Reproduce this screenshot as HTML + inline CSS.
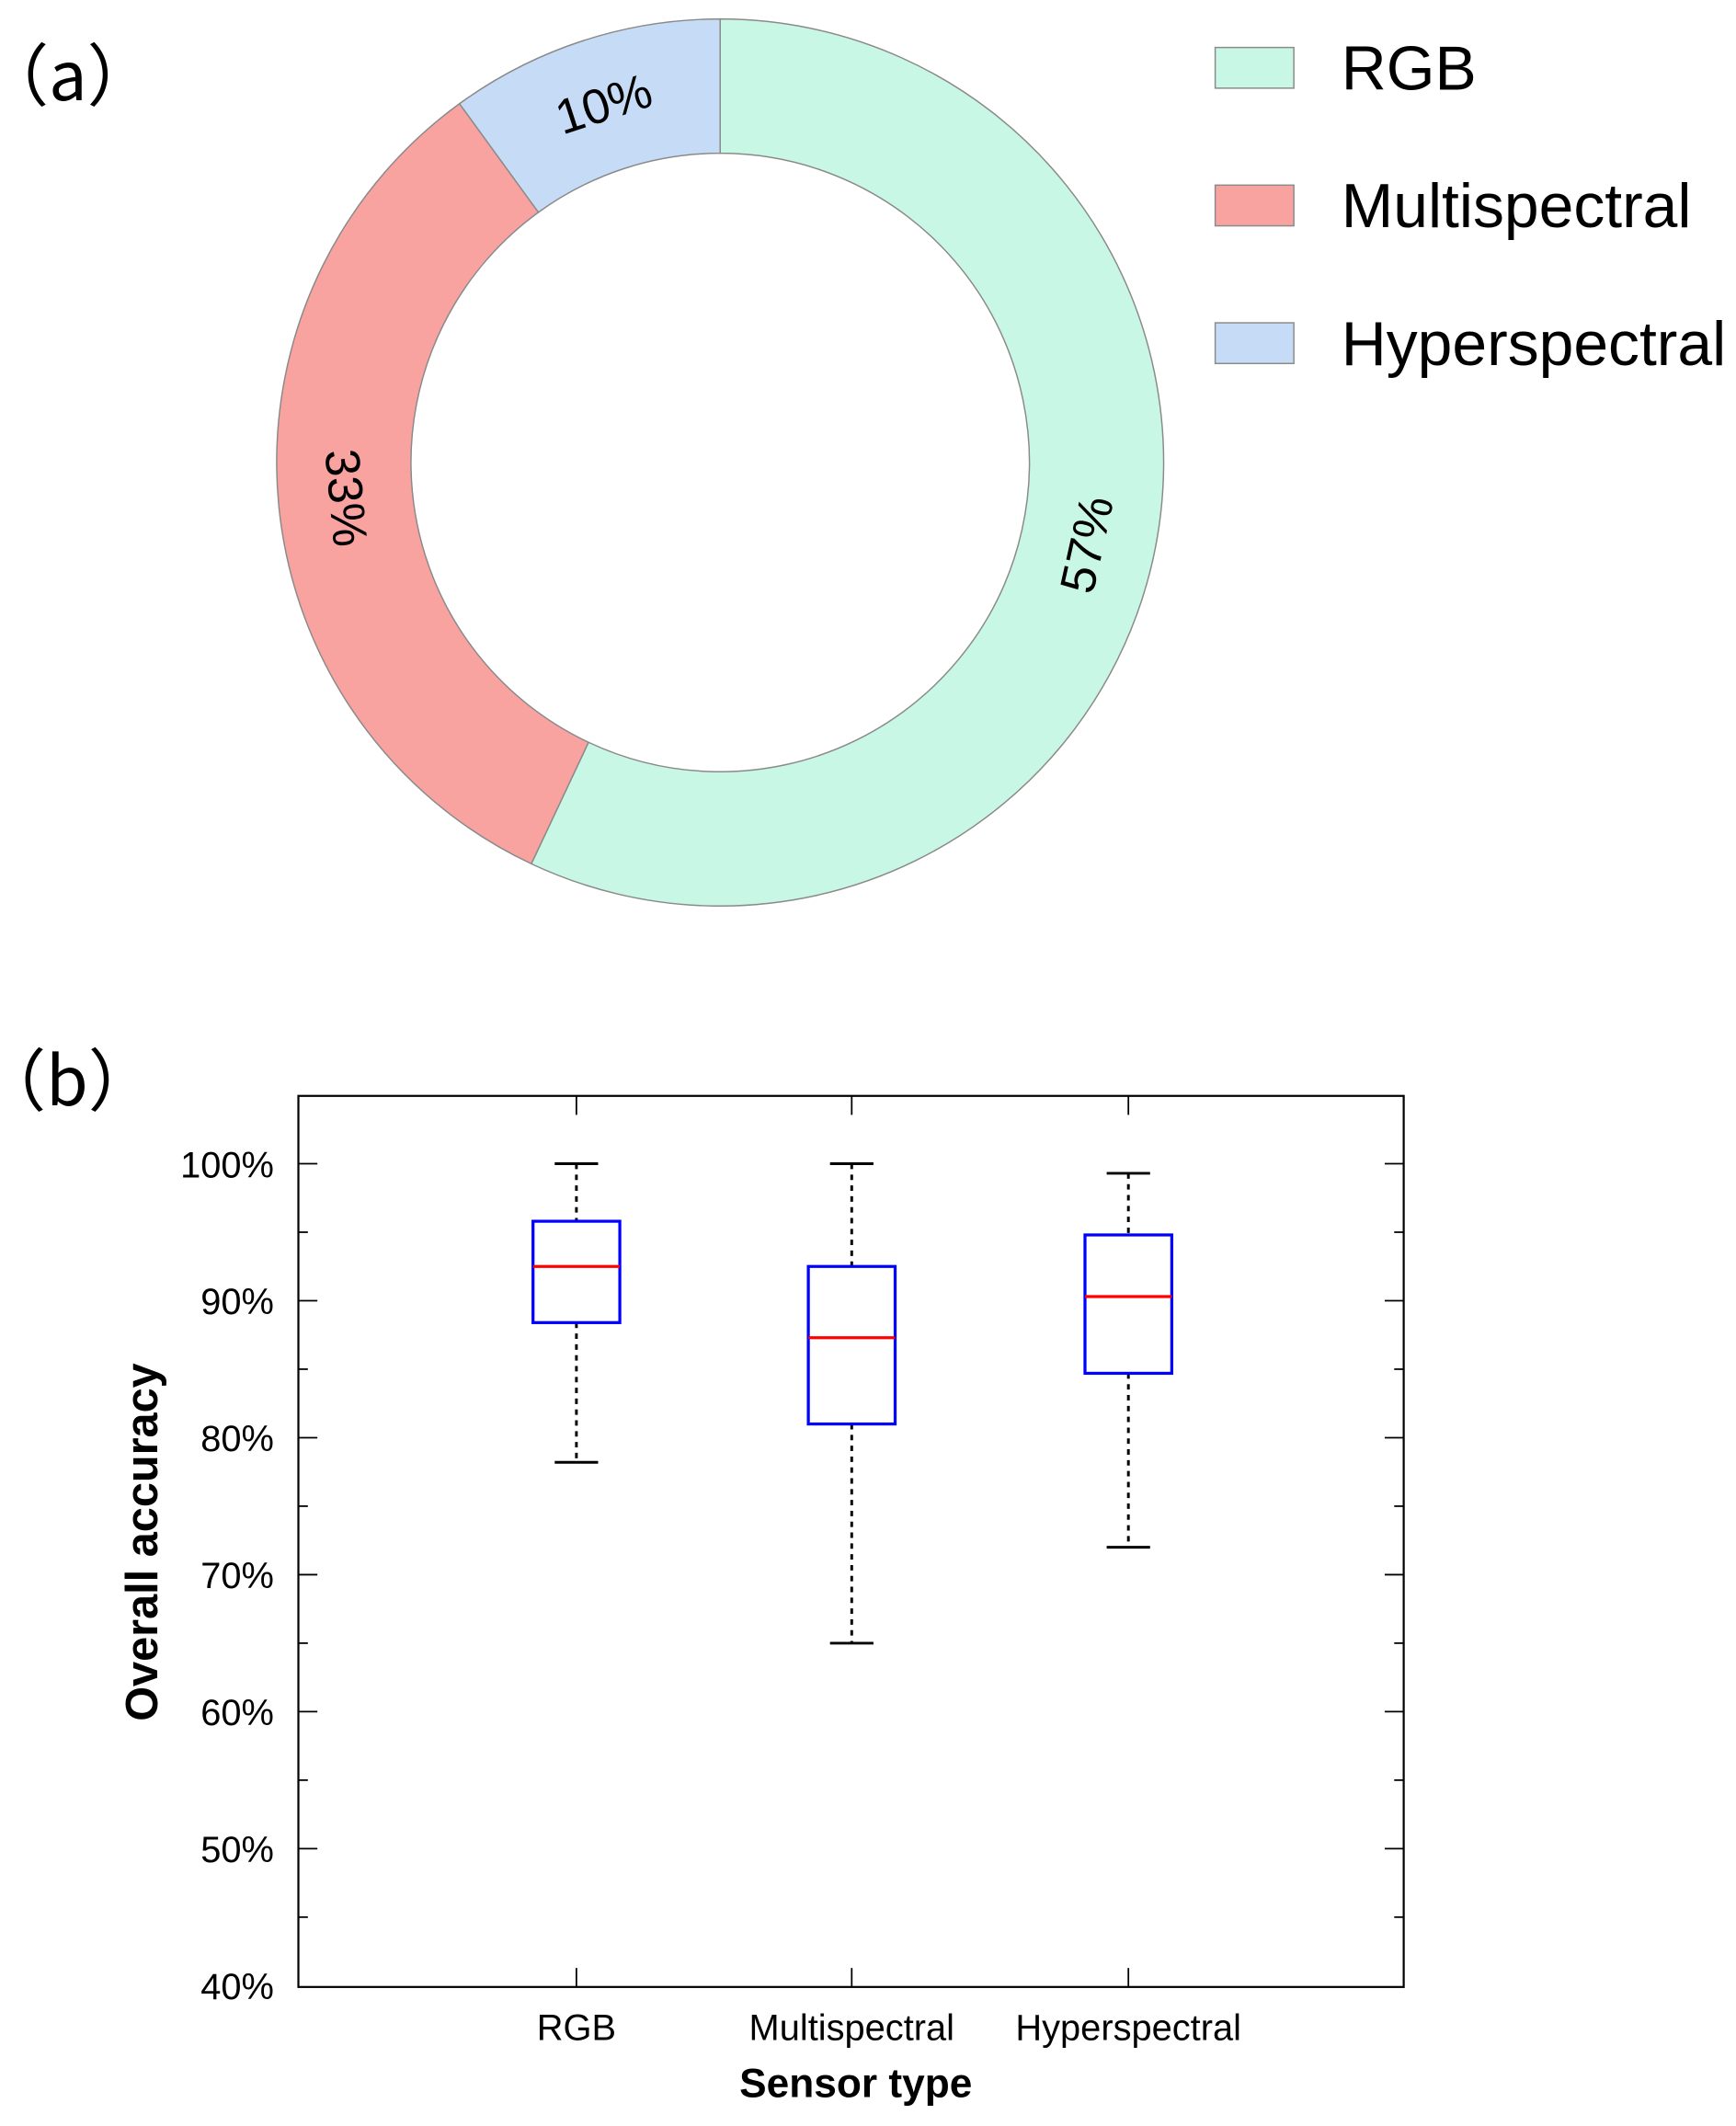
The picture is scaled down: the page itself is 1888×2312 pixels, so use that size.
<!DOCTYPE html>
<html><head><meta charset="utf-8"><style>
html,body{margin:0;padding:0;background:#fff;}
svg{display:block;font-family:"Liberation Sans",Arial,sans-serif;}
</style></head><body>
<svg id="fig" width="1888" height="2312" viewBox="0 0 1280 1567.5" xmlns="http://www.w3.org/2000/svg">
<rect width="1280" height="1567.5" fill="#fff"/>
<text x="-14" y="74" font-size="50" font-family="'Noto Sans CJK SC',sans-serif">（a）</text>
<g id="donut"></g>
<g id="legend"></g>
<text x="-16" y="815" font-size="50" font-family="'Noto Sans CJK SC',sans-serif">（b）</text>
<g id="box"></g>
</svg>
<script>
const shareLabels=["RGB","Multispectral","Hyperspectral"];
const shareValues=[57,33,10];
const shareColors=["#c9f7e5","#f9a3a1","#c6dcf6"];
const boxCats=["RGB","Multispectral","Hyperspectral"];
const boxMin=[78.2,65,72];
const boxQ1=[88.4,81,84.7];
const boxMed=[92.5,87.3,90.3];
const boxQ3=[95.8,92.5,94.8];
const boxMax=[100,100,99.3];
const yTicks=[40,50,60,70,80,90,100];

const NS="http://www.w3.org/2000/svg";
function mk(tag,attrs,parent,txt){const e=document.createElementNS(NS,tag);for(const k in attrs)e.setAttribute(k,attrs[k]);if(txt!=null)e.textContent=txt;parent.appendChild(e);return e;}

const dg=document.getElementById('donut');
const cx=531,cy=341,R=327,r=228;
const total=shareValues.reduce((a,b)=>a+b,0);
let acc=0;
function pt(rad,a){return [cx+rad*Math.sin(a),cy-rad*Math.cos(a)];}
shareValues.forEach((v,i)=>{
  const a0=acc/total*2*Math.PI;acc+=v;const a1=acc/total*2*Math.PI;
  const lg=(a1-a0)>Math.PI?1:0;
  const p0=pt(R,a0),p1=pt(R,a1),q1=pt(r,a1),q0=pt(r,a0);
  const d=`M${p0} A${R},${R} 0 ${lg} 1 ${p1} L${q1} A${r},${r} 0 ${lg} 0 ${q0} Z`;
  const s=mk('path',{d:d,fill:shareColors[i],stroke:'#8a8a8a','stroke-width':1},dg);
  
  
  const am=(a0+a1)/2;const m=pt((R+r)/2,am);
  const deg=am*180/Math.PI;
  let rot=(deg>90&&deg<270)?deg-180:deg;
  if(rot>180)rot-=360;
  const t=mk('text',{x:m[0],y:m[1],'font-size':36,'text-anchor':'middle','dominant-baseline':'central',transform:`rotate(${rot} ${m[0]} ${m[1]})`},dg,v+'%');
  
  
});

const lgG=document.getElementById('legend');
shareLabels.forEach((l,i)=>{
  const y=35+i*101.5;
  const rc=mk('rect',{x:896,y:y,width:58,height:30,fill:shareColors[i],stroke:'#8a8a8a','stroke-width':1},lgG);
  
  
  const t=mk('text',{x:989,y:y+31,'font-size':46},lgG,l);
  
  
});

const bg=document.getElementById('box');
const L=220,Rr=1035,T=808,B=1465;
const yv=v=>1464-(v-40)*10.1;
const xs=[425,628,832];
const fr=mk('rect',{x:L,y:T,width:Rr-L,height:B-T,fill:'none',stroke:'#000','stroke-width':1.5},bg);


for(let v=45;v<=100;v+=5){
  const y=yv(v);const len=v%10===0?14:7;
  mk('line',{x1:L,x2:L+len,y1:y,y2:y,stroke:'#000','stroke-width':1.2},bg);
  mk('line',{x1:Rr,x2:Rr-len,y1:y,y2:y,stroke:'#000','stroke-width':1.2},bg);
}
yTicks.forEach(v=>{
  const t=mk('text',{x:202,y:yv(v)+10,'font-size':27,'text-anchor':'end'},bg,v+'%');
  
  
});
boxCats.forEach((c,i)=>{
  const x=xs[i];
  mk('line',{x1:x,x2:x,y1:B,y2:B-14,stroke:'#000','stroke-width':1.2},bg);
  mk('line',{x1:x,x2:x,y1:T,y2:T+14,stroke:'#000','stroke-width':1.2},bg);
  const t=mk('text',{x:x,y:1504,'font-size':27,'text-anchor':'middle'},bg,c);
  
  
  const g=mk('g',{},bg);
  
  
  mk('line',{x1:x,x2:x,y1:yv(boxMax[i]),y2:yv(boxQ3[i]),stroke:'#000','stroke-width':2,'stroke-dasharray':'4 4'},g);
  mk('line',{x1:x,x2:x,y1:yv(boxQ1[i]),y2:yv(boxMin[i]),stroke:'#000','stroke-width':2,'stroke-dasharray':'4 4'},g);
  mk('line',{x1:x-16,x2:x+16,y1:yv(boxMax[i]),y2:yv(boxMax[i]),stroke:'#000','stroke-width':2},g);
  mk('line',{x1:x-16,x2:x+16,y1:yv(boxMin[i]),y2:yv(boxMin[i]),stroke:'#000','stroke-width':2},g);
  mk('rect',{x:x-32,y:yv(boxQ3[i]),width:64,height:yv(boxQ1[i])-yv(boxQ3[i]),fill:'none',stroke:'#0000ff','stroke-width':2.2},g);
  mk('line',{x1:x-32,x2:x+32,y1:yv(boxMed[i]),y2:yv(boxMed[i]),stroke:'#ff0000','stroke-width':2.2},g);
});
const xt=mk('text',{x:631,y:1546,'font-size':30,'font-weight':'bold','text-anchor':'middle'},bg,'Sensor type');


const yt=mk('text',{x:0,y:0,'font-size':33,'font-weight':'bold','text-anchor':'middle',transform:'translate(116,1137) rotate(-90)'},bg,'Overall accuracy');


</script>
</body></html>
